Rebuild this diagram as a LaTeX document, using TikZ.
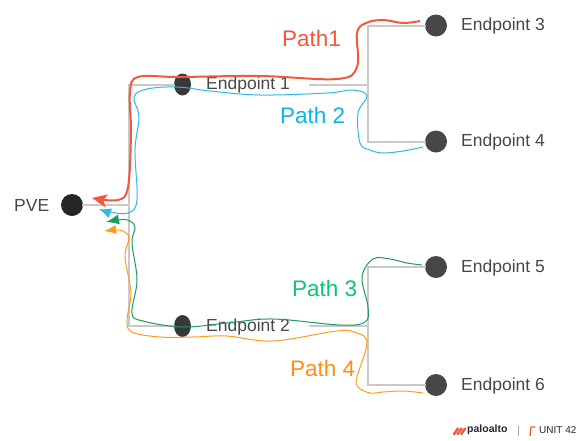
\documentclass[tikz,border=0pt]{standalone}
\usepackage{fontspec}
\setmainfont{Liberation Sans}
\usetikzlibrary{arrows.meta}
\definecolor{pathred}{HTML}{F4583A}
\definecolor{pathblue}{HTML}{2BBBE6}
\definecolor{pathgreen}{HTML}{1E9A5C}
\definecolor{pathorange}{HTML}{FF9C1F}
\definecolor{namegreen}{HTML}{0CC76E}
\definecolor{nameblue}{HTML}{0AB6E0}
\definecolor{nameorange}{HTML}{FF8F0F}
\definecolor{linegray}{HTML}{C9C9C9}
\tikzset{
  dotnode/.style={circle, fill=#1, inner sep=0pt, minimum size=22pt},
  dotnode/.default={black!72},
  eplabel/.style={anchor=west, inner sep=0pt, yshift=-0.8pt, text=black!72, font=\fontsize{17.5}{20}\selectfont},
  pathlabel/.style={anchor=west, inner sep=0pt, font=\fontsize{22.5}{26}\selectfont},
  wire/.style={draw=linegray, line width=2pt},
  route/.style={smooth, tension=0.6},
}
\begin{document}
\begin{tikzpicture}[x=1pt, y=-1pt]
\useasboundingbox (0,0) rectangle (581,440);
% junctions of the tree
\coordinate (jroot) at (128.5,205);
\coordinate (jtop) at (128.5,84.5);
\coordinate (jbot) at (128.5,326);
\coordinate (jra) at (367.5,84.5);
\coordinate (jrb) at (367.5,326);
\coordinate (wa) at (310,84.5);
\coordinate (wb) at (310,326);
\coordinate (upa) at (367.5,25.5);
\coordinate (upb) at (367.5,141.5);
\coordinate (upc) at (367.5,267);
\coordinate (upd) at (367.5,385);
% endpoints
\node[dotnode={black!85}] (pve) at (72,205) {};
\node[eplabel] (pvelabel) at (14,205) {PVE};
\foreach \n/\y/\t in {ep3/25.5/Endpoint 3, ep4/141.5/Endpoint 4, ep5/267/Endpoint 5, ep6/385/Endpoint 6} {
  \node[dotnode] (\n) at (436,\y) {};
  \node[eplabel] (\n label) at (461,\y) {\t};
}
\foreach \n/\y/\t in {ep1/84.5/Endpoint 1, ep2/326/Endpoint 2} {
  \node[dotnode={black!78}, xscale=0.77] (\n) at (182.5,\y) {};
  \node[eplabel] (\n label) at (206,\y) {\t};
}
% tree lines
\foreach \a/\b in {pve/jroot, jtop/jbot, jtop/ep1, jbot/ep2, wa/jra, wb/jrb, upa/upb, upc/upd, upa/ep3, upb/ep4, upc/ep5, upd/ep6} {\draw[wire, line cap=rect] (\a) -- (\b);}
% routes back to PVE
\coordinate (tipa) at (92,198);
\coordinate (tipb) at (99,209);
\coordinate (tipc) at (106,222);
\coordinate (tipd) at (104,231);
\coordinate (enda) at (420,21);
\coordinate (endb) at (423,147);
\coordinate (endc) at (422,265);
\coordinate (endd) at (423,393);
\draw[pathred, line width=2pt, -{Stealth[length=15pt, width=13pt, inset=3.5pt]}] plot[route] coordinates {(enda) (403,23) (383,20) (366,23) (357,33) (357,67) (337,79) (260,76) (180,77) (138,77) (130,93) (131,133) (128,187) (118,200) (tipa)};
\draw[pathblue, line width=1pt, -{Latex[length=12pt, width=10pt]}] plot[route] coordinates {(endb) (403,151) (383,153) (370,150) (360,143) (358,113) (367,96) (353,90) (327,93) (260,95) (210,91) (177,87) (147,89) (134,97) (139,117) (135,150) (137,200) (128,213) (110,212) (tipb)};
\draw[pathgreen, line width=1pt, -{Latex[length=13pt, width=10pt]}] plot[route] coordinates {(endc) (407,263) (390,259) (373,259) (362,277) (368,307) (365,322) (340,325) (273,319) (227,323) (183,327) (143,321) (132,313) (137,280) (132,243) (135,227) (128,220) (118,220) (tipc)};
\draw[pathorange, line width=1pt, -{Latex[length=12pt, width=9pt]}] plot[route] coordinates {(endd) (403,391) (383,392) (370,393) (358,387) (357,377) (367,343) (357,333) (337,331) (273,341) (227,336) (193,337) (160,337) (132,332) (127,320) (131,293) (125,257) (129,238) (123,231) (115,230) (tipd)};
% path names
\node[pathlabel, text=pathred] (patha) at (282,38) {Path1};
\node[pathlabel, text=nameblue] (pathb) at (280,115) {Path 2};
\node[pathlabel, text=namegreen] (pathc) at (292,288) {Path 3};
\node[pathlabel, text=nameorange] (pathd) at (290,368) {Path 4};
% footer
\foreach \x in {0,3.6,7.2} {\draw[pathred, line width=2.4pt, line cap=round] (454+\x,434) -- ++(4,-5.5);}
\node[anchor=west, inner sep=0pt, font=\fontsize{10.5}{12}\bfseries\selectfont, text=black!85] (pan) at (467,430) {paloalto};
\draw[black!35, line width=0.5pt] (518,426) -- (518,436);
\draw[pathred, line width=1.3pt] (530,436) -- (531,427) -- (535,427);
\node[anchor=west, inner sep=0pt, font=\fontsize{10}{12}\selectfont, text=black!85] (unit) at (539,430) {UNIT 42};
\end{tikzpicture}
\end{document}
